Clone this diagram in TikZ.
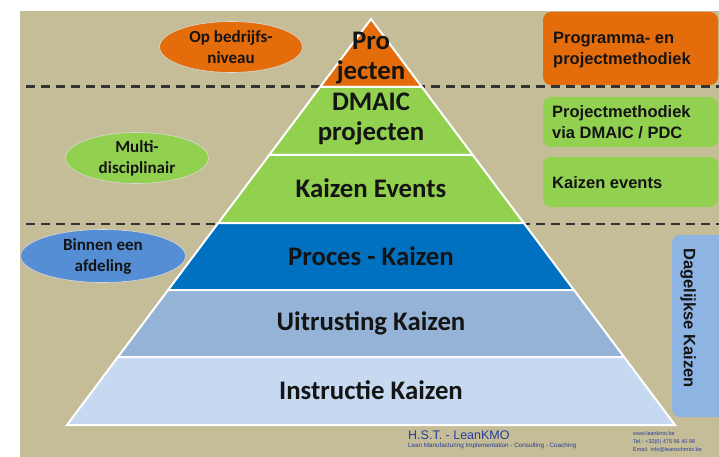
\documentclass[tikz,border=0pt]{standalone}
\usepackage{fontspec}
\setmainfont{Carlito}
\newfontfamily\arialf{Liberation Sans}
\usetikzlibrary{shapes.geometric}
\definecolor{bgtan}{HTML}{C4BD97}
\definecolor{orng}{HTML}{E46C0A}
\definecolor{grn}{HTML}{92D050}
\definecolor{dblue}{HTML}{0070C0}
\definecolor{mblue}{HTML}{95B3D7}
\definecolor{lblue}{HTML}{C6D9F1}
\definecolor{eblue}{HTML}{558ED5}
\definecolor{bblue}{HTML}{8EB4E3}
\definecolor{txt}{HTML}{141414}
\definecolor{foot}{HTML}{2A3C9C}
\tikzset{
  layer/.style={draw=white, line width=2pt, line join=miter},
  dashline/.style={draw=black!80, line width=2.2pt, dash pattern=on 9pt off 6pt},
  laylabel/.style={font=\bfseries\fontsize{26.8}{30}\selectfont, text=txt, align=center, inner sep=0pt},
  ell/.style={ellipse, draw=white!85!black, line width=0.6pt, inner sep=0pt,
     minimum width=143pt, minimum height=51pt, align=center, text=txt,
     font=\bfseries\fontsize{17}{21}\selectfont},
  rbox/.style={rounded corners=8pt},
  rtext/.style={anchor=west, align=left, inner sep=0pt, text=txt,
     font=\arialf\bfseries\fontsize{16.5}{21}\selectfont},
  foottext/.style={anchor=west, inner sep=0pt, text=foot, align=left}
}
\begin{document}
\begin{tikzpicture}[x=1pt,y=-1pt]
\useasboundingbox (0,0) rectangle (719,457);
\clip (0,0) rectangle (719,457);
\fill[white] (0,0) rectangle (719,457);
\fill[bgtan] (20,11) rectangle (719,457);
% dashed separators
\draw[dashline] (26,86.5) -- (719,86.5);
\draw[dashline] (26,224) -- (719,224);
% pyramid layers
\filldraw[layer, fill=orng] (371,19) -- (421.9,87) -- (320.1,87) -- cycle;
\filldraw[layer, fill=grn] (320.1,87) -- (421.9,87) -- (472.8,155) -- (269.2,155) -- cycle;
\filldraw[layer, fill=grn] (269.2,155) -- (472.8,155) -- (523.8,223) -- (218.2,223) -- cycle;
\filldraw[layer, fill=dblue] (218.2,223) -- (523.8,223) -- (573.9,290) -- (168.1,290) -- cycle;
\filldraw[layer, fill=mblue] (168.1,290) -- (573.9,290) -- (624.1,357) -- (117.9,357) -- cycle;
\filldraw[layer, fill=lblue] (117.9,357) -- (624.1,357) -- (675,425) -- (67,425) -- cycle;
% layer labels
\node[laylabel] (proj) at (371,58) {Pro\\jecten};
\node[laylabel] (dmaic) at (371,119) {DMAIC\\projecten};
\node[laylabel] (kev) at (371,188) {Kaizen Events};
\node[laylabel] (proc) at (371,256) {Proces - Kaizen};
\node[laylabel] (uitr) at (371,323) {Uitrusting Kaizen};
\node[laylabel] (instr) at (371,390) {Instructie Kaizen};
% ellipses
\node[ell, fill=orng] (e1) at (231,47) {Op bedrijfs-\\niveau};
\node[ell, fill=grn] (e2) at (137,158) {Multi-\\disciplinair};
\node[ell, fill=eblue, minimum width=165pt, minimum height=53pt] (e3) at (103,256) {Binnen een\\afdeling};
% right boxes
\fill[rbox, orng] (543,12) rectangle (718,85);
\node[rtext] (r1) at (553,50) {Programma- en\\projectmethodiek};
\fill[rbox, grn] (543,97) rectangle (718,147);
\node[rtext] (r2) at (552,122) {Projectmethodiek\\via DMAIC / PDC};
\fill[rbox, grn] (543,157) rectangle (718,207);
\node[rtext] (r3) at (552,183) {Kaizen events};
\fill[rbox, bblue] (672,235) rectangle (730,417);
\node[rotate=-90, inner sep=0pt, text=txt, font=\arialf\bfseries\fontsize{16.5}{20}\selectfont] (r4) at (688,318) {Dagelijkse Kaizen};
% footer
\node[foottext, font=\arialf\fontsize{12.5}{14}\selectfont] (f1) at (408,435) {H.S.T. - LeanKMO};
\node[foottext, font=\arialf\fontsize{6.3}{7}\selectfont] (f2) at (408,446) {Lean Manufacturing Implementation - Consulting - Coaching};
\node[foottext, font=\arialf\fontsize{5.5}{8}\selectfont] (f3) at (633,441.5) {www.leankmo.be\\Tel.: +32(0) 475 96 40 98\\Email: info@leanschmitz.be};
\end{tikzpicture}
\end{document}
